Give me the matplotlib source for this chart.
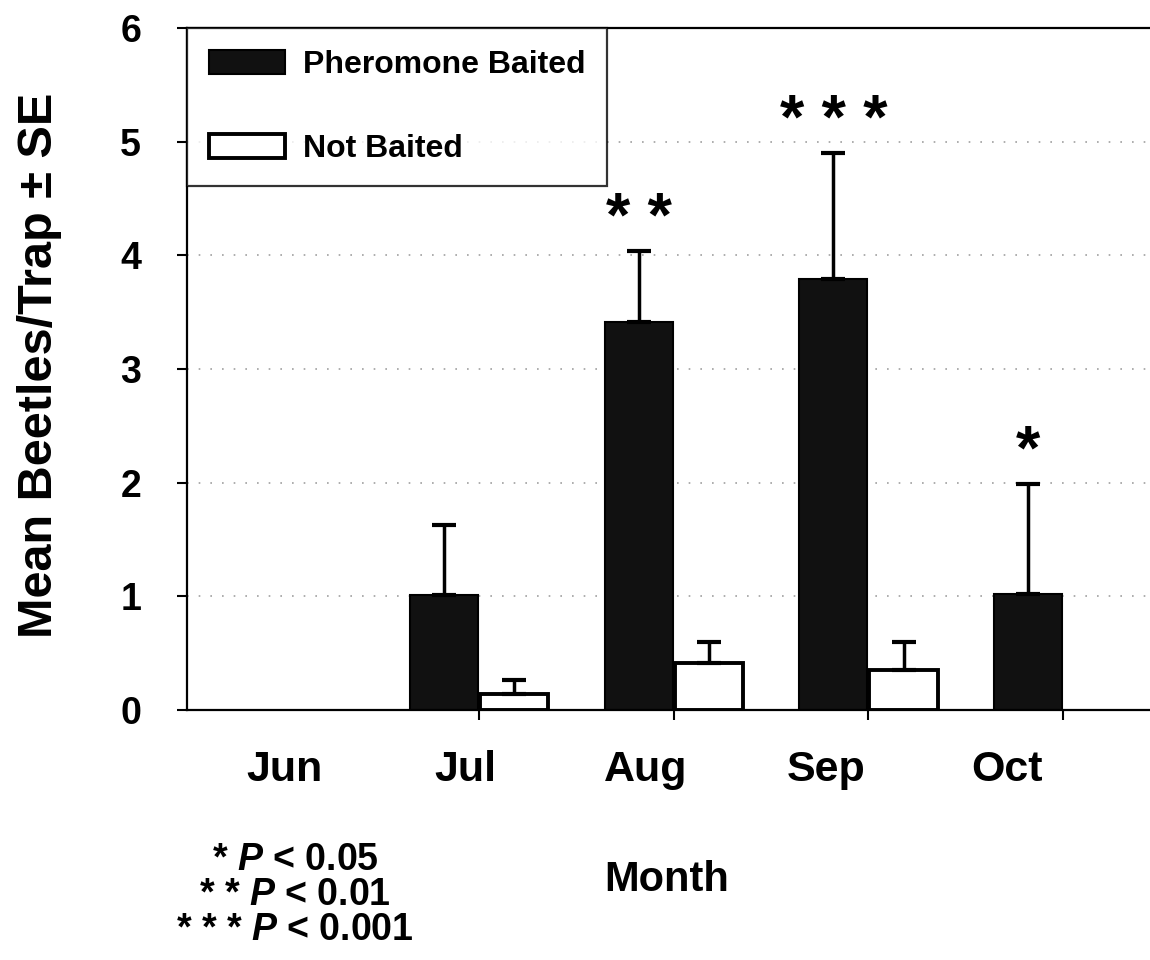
import numpy as np
import matplotlib
matplotlib.use('Agg')
import matplotlib.pyplot as plt

plt.rcParams['font.family'] = ['Liberation Sans', 'DejaVu Sans']
plt.rcParams['font.weight'] = 'bold'
plt.rcParams['mathtext.fontset'] = 'custom'
plt.rcParams['mathtext.it'] = 'Liberation Sans:italic:bold'
plt.rcParams['mathtext.rm'] = 'Liberation Sans:bold'

months = ['Jun', 'Jul', 'Aug', 'Sep', 'Oct']
baited = [0, 1.01, 3.41, 3.79, 1.02]
baited_se = [0, 0.62, 0.63, 1.11, 0.97]
not_baited = [0, 0.14, 0.41, 0.35, 0]
not_baited_se = [0, 0.12, 0.19, 0.25, 0]
signif = ['', '', '* *', '* * *', '*']
footnotes = ['* $P$ < 0.05', '* * $P$ < 0.01', '* * * $P$ < 0.001']

x = np.arange(len(months))
w = 0.35
off = 0.18

fig = plt.figure(figsize=(11.5, 9.6), dpi=100)
ax = fig.add_axes([187 / 1150, 1 - 710 / 960, 1 - 187 / 1150, 682 / 960])

# faint dotted grid like the scanned original
for yv in range(1, 6):
    ax.axhline(yv, color='#a0a0a0', lw=1.2, ls=(0, (1, 6)), zorder=0)

# no outline on empty (zero) bars
lw1 = [1.5 if v > 0 else 0 for v in baited]
lw2 = [2.8 if v > 0 else 0 for v in not_baited]
b1 = ax.bar(x - off, baited, w, color='#111111', edgecolor='black', lw=lw1,
            label='Pheromone Baited', zorder=2)
b2 = ax.bar(x + off, not_baited, w, color='white', edgecolor='black', lw=lw2,
            label='Not Baited', zorder=2)

for pos, vals, errs in [(x - off, baited, baited_se), (x + off, not_baited, not_baited_se)]:
    vals = np.array(vals)
    errs = np.array(errs)
    m = errs > 0
    ax.errorbar(pos[m], vals[m], yerr=[np.zeros(m.sum()), errs[m]], fmt='none',
                ecolor='black', elinewidth=2.5, capsize=8.5, capthick=3, zorder=3)

tops = np.array(baited) + np.array(baited_se)
for i, s in enumerate(signif):
    if s:
        ax.text(x[i] - off, tops[i] + 0.02, s, ha='center', va='bottom',
                fontsize=45, fontweight='bold')

ax.set_xlim(-0.5, 4.446)
ax.set_ylim(0, 6)
ax.set_yticks(range(0, 7))
ax.tick_params(axis='y', labelsize=27, length=7, width=1.5, pad=26)

# tick marks at group centres, labels drift left as in the original
ax.set_xticks(x, minor=True)
ax.set_xticks(x * 0.928)
ax.set_xticklabels(months, fontsize=31)
ax.tick_params(axis='x', which='major', length=0, pad=29)
ax.tick_params(axis='x', which='minor', length=7, width=1.5)

for sp in ['left', 'bottom', 'top']:
    ax.spines[sp].set_linewidth(1.6)
ax.spines['right'].set_visible(False)

leg = ax.legend(loc='upper left', bbox_to_anchor=(0, 1), borderaxespad=0,
                fontsize=23, frameon=True, fancybox=False, edgecolor='black',
                handlelength=2.4, handleheight=0.78, handletextpad=0.55,
                labelspacing=1.7, borderpad=0.68)
leg.get_frame().set_linewidth(1.6)
for h in leg.legend_handles:
    h.set_linewidth(2.8 if h.get_facecolor()[0] > 0.5 else 1.5)

fig.text(667 / 1150, 1 - 880 / 960, 'Month', ha='center', va='center', fontsize=30)
fig.text(40 / 1150, 1 - 365 / 960, 'Mean Beetles/Trap \u00b1 SE', rotation=90,
         ha='center', va='center', fontsize=35)

for k, t in enumerate(footnotes):
    fig.text(295 / 1150, 1 - (860 + 35 * k) / 960, t, ha='center', va='center',
             fontsize=27)

fig.savefig('out.png', dpi=100)
